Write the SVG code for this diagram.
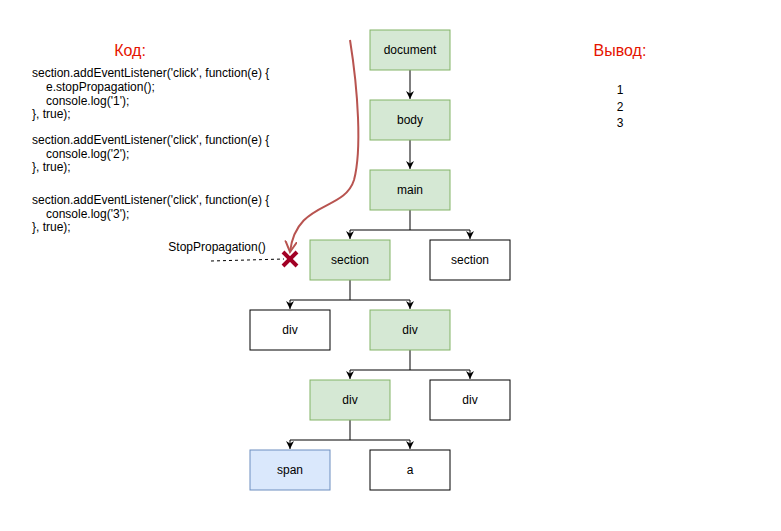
<svg xmlns="http://www.w3.org/2000/svg" width="781" height="531" viewBox="0 0 781 531">
<style>
text{font-family:"Liberation Sans",Arial,sans-serif;font-size:12px;fill:#000}
.n rect{fill:#fff;stroke:#000;stroke-width:1}
.g rect{fill:#d5e8d4;stroke:#82b366}
.b rect{fill:#dae8fc;stroke:#6c8ebf}
.n text{text-anchor:middle;font-size:12px}
.red{fill:#e51400;font-size:16px;text-anchor:middle}
.e{fill:none;stroke:#000;stroke-width:1}
</style>
<defs>
<marker id="ar" markerWidth="9" markerHeight="9" refX="8" refY="4.5" orient="auto" markerUnits="userSpaceOnUse">
<path d="M0,0.5 L8,4.5 L0,8.5 L2.5,4.5 Z" fill="#000"/>
</marker>
<marker id="rar" markerWidth="14" markerHeight="14" refX="11" refY="6" orient="auto" markerUnits="userSpaceOnUse">
<path d="M0,0 L11,6 L0,12" fill="none" stroke="#b85450" stroke-width="2"/>
</marker>
</defs>
<rect width="781" height="531" fill="#fff"/>
<g id="connectors">
<path class="e" d="M410,70 V99" marker-end="url(#ar)"/>
<path class="e" d="M410,140 V169" marker-end="url(#ar)"/>
<path class="e" d="M410,210 V230 H350 V239" marker-end="url(#ar)"/>
<path class="e" d="M410,230 H470 V239" marker-end="url(#ar)"/>
<path class="e" d="M350,280 V300 H290 V309" marker-end="url(#ar)"/>
<path class="e" d="M350,300 H410 V309" marker-end="url(#ar)"/>
<path class="e" d="M410,350 V370 H350 V379" marker-end="url(#ar)"/>
<path class="e" d="M410,370 H470 V379" marker-end="url(#ar)"/>
<path class="e" d="M350,420 V440 H290 V449" marker-end="url(#ar)"/>
<path class="e" d="M350,440 H410 V449" marker-end="url(#ar)"/>
<path d="M350,40 C358,90 362,150 354,180 C344,212 296,200 290,252" fill="none" stroke="#b85450" stroke-width="2" marker-end="url(#rar)"/>
<path d="M211,261 L284,259" fill="none" stroke="#000" stroke-dasharray="3,3"/>
</g>
<g id="cross">
<path d="M283,252 L297,266 M297,252 L283,266" stroke="#a20025" stroke-width="4"/>
</g>
<g id="document" class="n g"><rect x="370" y="30" width="80" height="40"/><text x="410" y="54">document</text></g>
<g id="body" class="n g"><rect x="370" y="100" width="80" height="40"/><text x="410" y="124">body</text></g>
<g id="main" class="n g"><rect x="370" y="170" width="80" height="40"/><text x="410" y="194">main</text></g>
<g id="section1" class="n g"><rect x="310" y="240" width="80" height="40"/><text x="350" y="264">section</text></g>
<g id="section2" class="n"><rect x="430" y="240" width="80" height="40"/><text x="470" y="264">section</text></g>
<g id="div1" class="n"><rect x="250" y="310" width="80" height="40"/><text x="290" y="334">div</text></g>
<g id="div2" class="n g"><rect x="370" y="310" width="80" height="40"/><text x="410" y="334">div</text></g>
<g id="div3" class="n g"><rect x="310" y="380" width="80" height="40"/><text x="350" y="404">div</text></g>
<g id="div4" class="n"><rect x="430" y="380" width="80" height="40"/><text x="470" y="404">div</text></g>
<g id="span" class="n b"><rect x="250" y="450" width="80" height="40"/><text x="290" y="474">span</text></g>
<g id="a" class="n"><rect x="370" y="450" width="80" height="40"/><text x="410" y="474">a</text></g>
<g id="code">
<text class="red" x="130" y="56">Код:</text>
<text x="32" y="77">section.addEventListener('click', function(e) {</text>
<text x="46" y="91">e.stopPropagation();</text>
<text x="46" y="105">console.log('1');</text>
<text x="32" y="118">}, true);</text>
<text x="32" y="144">section.addEventListener('click', function(e) {</text>
<text x="46" y="158">console.log('2');</text>
<text x="32" y="171">}, true);</text>
<text x="32" y="204">section.addEventListener('click', function(e) {</text>
<text x="46" y="218">console.log('3');</text>
<text x="32" y="231">}, true);</text>
</g>
<g id="output">
<text class="red" x="620" y="56">Вывод:</text>
<text x="620" y="94" text-anchor="middle" font-size="14">1</text>
<text x="620" y="111" text-anchor="middle" font-size="14">2</text>
<text x="620" y="127" text-anchor="middle" font-size="14">3</text>
</g>
<text x="217" y="251" text-anchor="middle">StopPropagation()</text>
</svg>
